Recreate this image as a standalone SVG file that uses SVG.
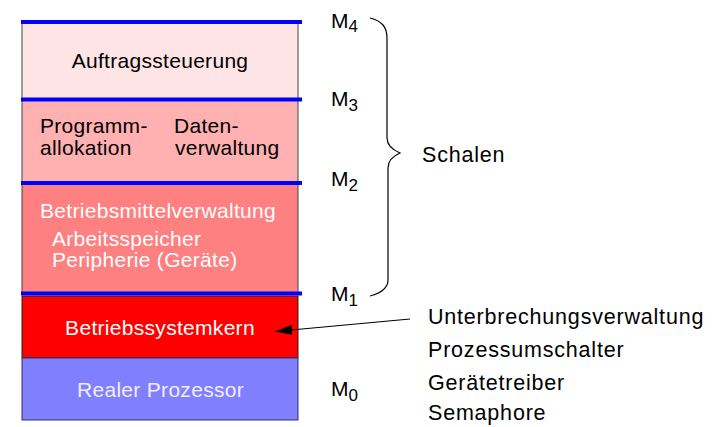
<svg xmlns="http://www.w3.org/2000/svg" width="722" height="427" viewBox="0 0 722 427">
<defs>
<style>
text{font-family:"Liberation Sans",Arial,sans-serif;}
.t{font-size:21px;letter-spacing:0.3px;}
.w{fill:#ffffff;}
.k{fill:#000000;}
.r{font-size:21.5px;letter-spacing:0.8px;fill:#000;}
.m{font-size:21px;fill:#000;}
.sub{font-size:17px;}
.layer{stroke:#444;stroke-width:1;}
.sep{stroke:#0000ff;stroke-width:4;}
</style>
<marker id="ah" markerWidth="18" markerHeight="10" refX="17" refY="5" orient="auto" markerUnits="userSpaceOnUse">
<path d="M0,0 L17,5 L0,10 Z" fill="#000"/>
</marker>
</defs>
<rect width="722" height="427" fill="#fff"/>
<g id="auftrag">
<rect class="layer" x="22" y="22" width="276" height="78" fill="#fee4e4"/>
<text class="t k" x="160" y="68" text-anchor="middle">Auftragssteuerung</text>
</g>
<g id="programm">
<rect class="layer" x="22" y="100" width="276" height="83" fill="#ffb1b1"/>
<text class="t k" x="40" y="133">Programm-</text>
<text class="t k" x="40" y="155">allokation</text>
<text class="t k" x="174" y="133">Daten-</text>
<text class="t k" x="175" y="155">verwaltung</text>
</g>
<g id="betriebsmittel">
<rect class="layer" x="22" y="183" width="276" height="111" fill="#ff8080"/>
<text class="t w" x="40" y="218">Betriebsmittelverwaltung</text>
<text class="t w" x="52" y="246">Arbeitsspeicher</text>
<text class="t w" x="52" y="267">Peripherie (Geräte)</text>
</g>
<g id="kern">
<rect x="22" y="296" width="276" height="62" fill="#ff0000" stroke="#222" stroke-width="1"/>
<text class="t w" x="160" y="335" text-anchor="middle">Betriebssystemkern</text>
</g>
<g id="prozessor">
<rect x="22" y="358" width="276" height="62" fill="#8080ff" stroke="#333366" stroke-width="1"/>
<text class="t" x="160.5" y="397" text-anchor="middle" fill="#eeeeff">Realer Prozessor</text>
</g>
<g id="separators">
<line class="sep" x1="21" y1="22" x2="302" y2="22"/>
<line class="sep" x1="21" y1="99.5" x2="302" y2="99.5"/>
<line class="sep" x1="21" y1="183" x2="302" y2="183"/>
<line class="sep" x1="21" y1="293.5" x2="302" y2="293.5"/>
</g>
<g id="labels">
<text class="m" x="331" y="28">M<tspan class="sub" dy="4">4</tspan></text>
<text class="m" x="331" y="106">M<tspan class="sub" dy="5">3</tspan></text>
<text class="m" x="331" y="186">M<tspan class="sub" dy="5">2</tspan></text>
<text class="m" x="331" y="301">M<tspan class="sub" dy="5">1</tspan></text>
<text class="m" x="331" y="396">M<tspan class="sub" dy="5">0</tspan></text>
<text class="r" x="422" y="162">Schalen</text>
<text class="r" x="428" y="324">Unterbrechungsverwaltung</text>
<text class="r" x="428" y="357">Prozessumschalter</text>
<text class="r" x="428" y="390">Gerätetreiber</text>
<text class="r" x="428" y="420">Semaphore</text>
</g>
<g id="connectors" fill="none" stroke="#000" stroke-width="1.2">
<path d="M370,18 C382,21 387,27 387,38 L387,138 C387,146 393,150 400,153 C393,156 388,160 388,168 L388,280 C388,288 381,293 370,296"/>
<line x1="410" y1="319" x2="275" y2="331.5" marker-end="url(#ah)"/>
</g>
</svg>
